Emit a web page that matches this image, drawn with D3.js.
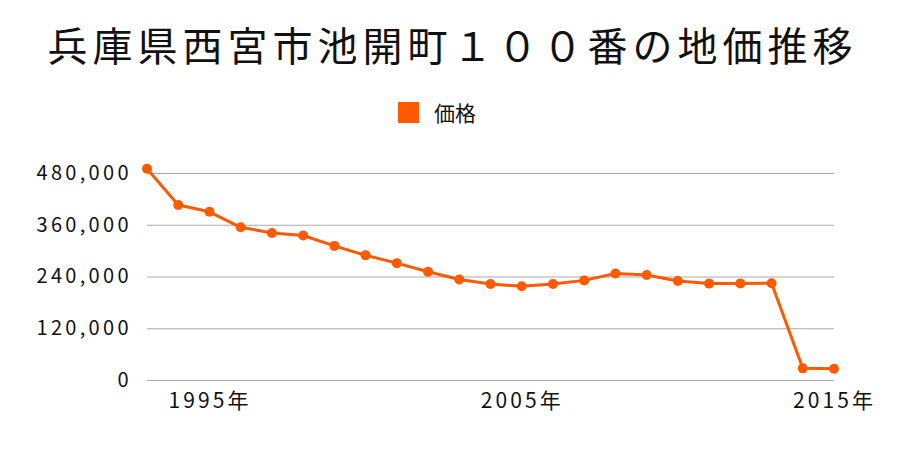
<!DOCTYPE html>
<html><head><meta charset="utf-8">
<script src="https://cdn.jsdelivr.net/npm/d3@7"></script>
<style>body{margin:0;background:#fff}svg{display:block}text{font-family:"Noto Sans CJK JP","Noto Sans",sans-serif}</style>
</head><body><svg id="c" width="900" height="450"></svg>
<script>
const title = "兵庫県西宮市池開町１００番の地価推移";
const seriesName = "価格";
const years = [1993,1994,1995,1996,1997,1998,1999,2000,2001,2002,2003,2004,2005,2006,2007,2008,2009,2010,2011,2012,2013,2014,2015];
const prices = [490000,406000,390000,354000,341000,335000,311000,289000,271000,251000,233000,222500,217500,222500,231000,247000,243500,229500,223500,224000,224500,27000,26000];
const yTicks = [0,120000,240000,360000,480000];
const xTicks = [1995,2005,2015];
const color = "#ff5a00";

const svg = d3.select("#c");
const x = d3.scaleLinear().domain([1993,2015]).range([147,834]);
const y = d3.scaleLinear().domain([0,480000]).range([380,173]);

svg.append("text").attr("x",452.5).attr("y",61).attr("text-anchor","middle")
  .attr("font-size",40).attr("letter-spacing",5).attr("fill","#111").text(title);

svg.append("rect").attr("x",398).attr("y",102).attr("width",21).attr("height",21).attr("fill",color);
svg.append("text").attr("x",434).attr("y",121).attr("font-size",21).attr("fill","#111").text(seriesName);

const gy = svg.append("g").attr("transform","translate(147,0)")
  .call(d3.axisLeft(y).tickValues(yTicks).tickSize(-(834-147)).tickPadding(17).tickFormat(d3.format(",")));
gy.select(".domain").remove();
gy.selectAll(".tick line").attr("stroke","#aaa").attr("stroke-width",1);
const yt = gy.selectAll(".tick text").attr("font-size",20).attr("fill","#111").attr("font-family","'Noto Sans CJK JP',sans-serif");
// widen digits to match reference glyph width (480,000 ≈ 92px)
const w480 = yt.filter(d=>d===480000).node().getComputedTextLength();
const lsY = Math.max(0,(92 - w480)/6);
yt.attr("letter-spacing",lsY).attr("x", (128.5 - 147) + lsY);

const gx = svg.append("g").attr("transform","translate(0,380)")
  .call(d3.axisBottom(x).tickValues(xTicks).tickSize(0).tickPadding(13).tickFormat(d=>d+"年"));
gx.select(".domain").remove();
const xt = gx.selectAll(".tick text").attr("font-size",21).attr("fill","#111").attr("font-family","'Noto Sans CJK JP',sans-serif");
const w1995 = xt.filter(d=>d===1995).node().getComputedTextLength();
const lsX = Math.max(0,(80 - w1995)/4);
xt.attr("letter-spacing",lsX).attr("dx", lsX/2 - 1.5);

const line = d3.line().x((d,i)=>x(years[i])).y(d=>y(d));
svg.append("path").datum(prices).attr("d",line).attr("fill","none").attr("stroke",color).attr("stroke-width",3).attr("stroke-linejoin","round");
svg.selectAll("circle.pt").data(prices).join("circle").attr("class","pt")
  .attr("cx",(d,i)=>x(years[i])).attr("cy",d=>y(d)).attr("r",5).attr("fill",color);
</script></body></html>
